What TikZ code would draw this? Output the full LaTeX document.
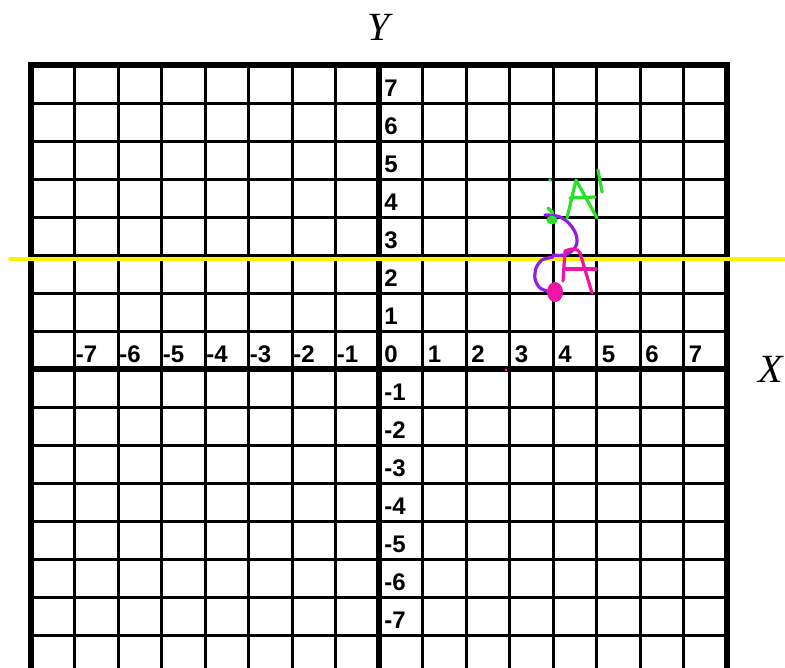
\documentclass[tikz,border=0pt]{standalone}
\usepackage{fontspec}
\setmainfont{Liberation Serif}
\setsansfont{Liberation Sans}
\usepackage{tikz}

\definecolor{penpink}{RGB}{238,20,168}
\definecolor{pengreen}{RGB}{40,225,40}
\definecolor{penpurple}{RGB}{145,30,225}
\definecolor{hlyellow}{RGB}{255,240,0}

\begin{document}
\begin{tikzpicture}[x=21.75pt, y=19pt,
    numlab/.style={anchor=base west, inner sep=0pt, font=\sffamily\bfseries\fontsize{12}{14}\selectfont},
    axlab/.style={font=\itshape\fontsize{20}{24}\selectfont},
    pen/.style={line width=1.6pt, line cap=round, line join=round}]
  \useasboundingbox (-8.713,-7.842) rectangle (9.333,9.711);
  \clip (-8.713,-7.842) rectangle (9.333,9.711);
  % grid and axes
  \foreach \i in {-7,...,7} {
    \draw[line width=1.5pt] (\i,-8) -- (\i,8);
    \draw[line width=1.5pt] (-8,\i) -- (8,\i);
  }
  \draw[line width=2.6pt] (-8,-8) rectangle (8,8);
  \draw[line width=2.6pt] (-8,0) -- (8,0);
  \draw[line width=2.6pt] (0,-8) -- (0,8);
  % numbers
  \foreach \n in {-7,...,-1}
    \node[numlab] (xl\n) at ([xshift=0.5pt,yshift=3.3pt]\n,0) {\n};
  \foreach \n in {0,...,7}
    \node[numlab] (xl\n) at ([xshift=2.5pt,yshift=3.3pt]\n,0) {\n};
  \foreach \n in {-7,...,-1,1,2,...,7}
    \node[numlab] (yl\n) at ([xshift=2.5pt,yshift=3.3pt]0,\n) {\n};
  \node[axlab] (ylab) at (0,9) {Y};
  \node[axlab] (xlab) at (9,0) {X};
  % mirror line
  \draw[hlyellow, line width=2pt, line cap=round] (-8.48,2.895) -- (9.5,2.895);
  % pen marks
  \begin{scope}[x=0.5pt, y=-0.5pt, shift={(-379,-369)}]
    \draw[pen, penpurple] plot[smooth, tension=0.7] coordinates {(545,215) (560,217) (572,227) (577,240) (573,250) (563,255) (553,255)};
    \draw[pen, penpurple] plot[smooth] coordinates {(553,257) (542,260) (536,268) (535,279) (540,288) (550,292)};
    \fill[penpink] (555,292) ellipse (4pt and 5pt);
    \draw[pen, penpink] plot[smooth] coordinates {(563,281) (564,265) (565,251)}
      .. controls (571,248) and (578,248) .. (580,253) -- (592,293);
    \draw[pen, penpink] (565,269) -- (596,269);
    \fill[penpink] (506,370) circle (0.8pt);
    \fill[pengreen] (552,220) ellipse (2.8pt and 2.2pt);
    \draw[pen, pengreen] (548,208) -- (553,213);
    \fill[pengreen] (550,180) circle (0.9pt);
    \draw[pen, pengreen] (567,218) -- (576,180) -- (597,218);
    \draw[pen, pengreen] (570,198) -- (595,197);
    \draw[pen, pengreen] (598,170) -- (602,192);
  \end{scope}
\end{tikzpicture}
\end{document}
